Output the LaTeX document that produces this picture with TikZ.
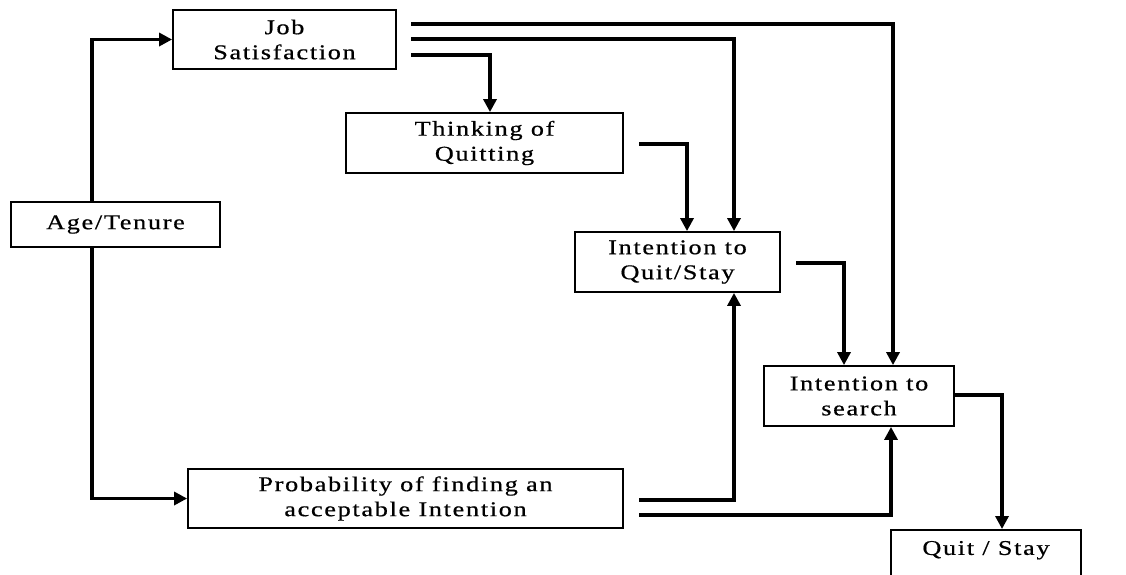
\documentclass[tikz,border=0pt]{standalone}
\usepackage{fontspec}
\setmainfont{Liberation Serif}[FakeStretch=1.25,LetterSpace=8,FakeBold=0.6]
\usetikzlibrary{arrows.meta}
\begin{document}
\begin{tikzpicture}[x=1pt,y=-1pt,
  box/.style={draw,line width=1.8pt,inner sep=0pt,align=center,
    font=\fontsize{21}{25}\selectfont},
  arr/.style={line width=3.2pt,-{Triangle[length=13pt,width=13pt]}}]
\useasboundingbox (0,0) rectangle (1126,574);
\node[box,minimum width=223pt,minimum height=59pt] (job) at (284.5,39.5) {Job\\Satisfaction};
\node[box,minimum width=209pt,minimum height=45pt] (age) at (115.5,224.5) {Age/Tenure};
\node[box,minimum width=277pt,minimum height=60pt] (think) at (484.5,143) {Thinking of\\Quitting};
\node[box,minimum width=205pt,minimum height=60pt] (iqs) at (677.5,262) {Intention to\\Quit/Stay};
\node[box,minimum width=190pt,minimum height=60pt] (search) at (859,396) {Intention to\\search};
\node[box,minimum width=435pt,minimum height=59pt] (prob) at (405.5,498.5) {Probability of finding an\\acceptable Intention};
\node[box,minimum width=190pt,anchor=north,text height=22pt,text depth=40pt,inner ysep=3pt] (qs) at (986,529) {Quit / Stay};
% free starts
\coordinate (j1) at (411,24);
\coordinate (j2) at (411,39);
\coordinate (j3) at (411,55);
\coordinate (t1) at (639,144);
\coordinate (q1) at (796,263);
\coordinate (p1) at (639,500);
\coordinate (p2) at (639,515);
% connectors
\draw[arr] ([xshift=-23.5pt]age.north) |- (job.west);
\draw[arr] ([xshift=-23.5pt]age.south) |- (prob.west);
\draw[arr] (j3) -| ([xshift=5.5pt]think.north);
\draw[arr] (j1) -| ([xshift=34pt]search.north);
\draw[arr] (j2) -| ([xshift=56.5pt]iqs.north);
\draw[arr] (t1) -| ([xshift=9.5pt]iqs.north);
\draw[arr] (q1) -| ([xshift=-15pt]search.north);
\draw[arr] ([yshift=1pt]search.east) -| ([xshift=16pt]qs.north);
\draw[arr] (p1) -| ([xshift=56.5pt]iqs.south);
\draw[arr] (p2) -| ([xshift=32pt]search.south);
\end{tikzpicture}
\end{document}
